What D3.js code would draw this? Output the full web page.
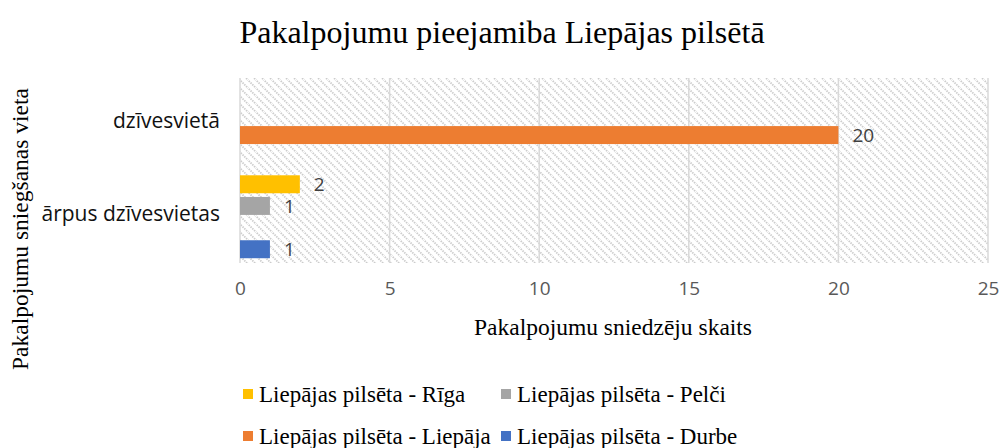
<!DOCTYPE html>
<html><head><meta charset="utf-8">
<script src="https://cdn.jsdelivr.net/npm/d3@7"></script>
<style>body{margin:0;background:#fff}svg{display:block}</style>
</head><body>
<svg id="c" width="1003" height="448"></svg>
<script>
const categories = ["dzīvesvietā", "ārpus dzīvesvietas"];
const seriesNames = ["Liepājas pilsēta - Rīga", "Liepājas pilsēta - Pelči", "Liepājas pilsēta - Liepāja", "Liepājas pilsēta - Durbe"];
const seriesColors = ["#FFC000", "#A5A5A5", "#ED7D31", "#4472C4"];
const valuesRiga = [null, 2];
const valuesPelci = [null, 1];
const valuesLiepaja = [20, null];
const valuesDurbe = [null, 1];
const xTicks = [0, 5, 10, 15, 20, 25];
const titleText = "Pakalpojumu pieejamiba Liepājas pilsētā";
const xTitle = "Pakalpojumu sniedzēju skaits";
const yTitle = "Pakalpojumu sniegšanas vieta";

const seriesValues = [valuesRiga, valuesPelci, valuesLiepaja, valuesDurbe];
const svg = d3.select("#c");
const m = {left: 240, right: 988, top: 78, bottom: 263};
const sans = "Open Sans, Liberation Sans, sans-serif";
const serif = "Liberation Serif, Times New Roman, serif";

const defs = svg.append("defs");
const pat = defs.append("pattern").attr("id", "hatch").attr("patternUnits", "userSpaceOnUse")
  .attr("width", 8).attr("height", 8);
pat.append("rect").attr("width", 8).attr("height", 8).attr("fill", "#fff");
pat.append("path").attr("d", "M-1,-1L9,9M-1,7L1,9M7,-1L9,1")
  .attr("stroke", "#cccccc").attr("stroke-width", 1.8).attr("stroke-dasharray", "1.5,1");

const x = d3.scaleLinear().domain([0, 25]).range([m.left, m.right]);
const y0 = d3.scaleBand().domain(categories).range([m.top, m.bottom]).paddingInner(0.08).paddingOuter(0.04);
const y1 = d3.scaleBand().domain(d3.range(seriesNames.length)).range([0, y0.bandwidth()]).paddingInner(0.17).paddingOuter(0.05);

svg.append("rect").attr("x", m.left).attr("y", m.top).attr("width", m.right - m.left).attr("height", m.bottom - m.top)
  .attr("fill", "url(#hatch)");

svg.append("g").selectAll("line").data(xTicks).join("line")
  .attr("x1", d => x(d)).attr("x2", d => x(d)).attr("y1", m.top).attr("y2", m.bottom)
  .attr("stroke", "#d9d9d9").attr("stroke-width", 1.5);

const xAxis = svg.append("g").attr("transform", `translate(0,${m.bottom})`)
  .call(d3.axisBottom(x).tickValues(xTicks).tickSize(0).tickPadding(19));
xAxis.select(".domain").remove();
xAxis.selectAll("text").attr("font-family", sans).attr("font-size", 19).attr("fill", "#595959");

const yAxis = svg.append("g").attr("transform", `translate(${m.left},0)`)
  .call(d3.axisLeft(y0).tickSize(0).tickPadding(20));
yAxis.select(".domain").remove();
yAxis.selectAll("text").attr("font-family", sans).attr("font-size", 21).attr("fill", "#111")
  .attr("dy", "0.2em");

const bars = [];
categories.forEach((c, ci) => seriesValues.forEach((vals, si) => {
  if (vals[ci] != null) bars.push({c, si, v: vals[ci]});
}));
const g = svg.append("g");
g.selectAll("rect").data(bars).join("rect")
  .attr("x", x(0)).attr("y", d => y0(d.c) + y1(d.si))
  .attr("width", d => x(d.v) - x(0)).attr("height", y1.bandwidth())
  .attr("fill", d => seriesColors[d.si]);
g.selectAll("text").data(bars).join("text")
  .attr("x", d => x(d.v) + 14).attr("y", d => y0(d.c) + y1(d.si) + y1.bandwidth() / 2 + 7)
  .attr("font-family", sans).attr("font-size", 19).attr("fill", "#404040")
  .text(d => d.v);

svg.append("text").attr("x", 502).attr("y", 43).attr("text-anchor", "middle")
  .attr("font-family", serif).attr("font-size", 32).attr("fill", "#000").text(titleText);
svg.append("text").attr("x", 613).attr("y", 335).attr("text-anchor", "middle")
  .attr("font-family", serif).attr("font-size", 23.5).attr("fill", "#000").text(xTitle);
svg.append("text").attr("transform", "translate(28,229) rotate(-90)").attr("text-anchor", "middle")
  .attr("font-family", serif).attr("font-size", 23.5).attr("fill", "#000").text(yTitle);

const legPos = [[243, 402], [501, 402], [243, 444], [501, 444]];
const leg = svg.append("g").selectAll("g").data(seriesNames).join("g")
  .attr("transform", (d, i) => `translate(${legPos[i][0]},${legPos[i][1]})`);
leg.append("rect").attr("x", 0).attr("y", -13).attr("width", 10).attr("height", 10)
  .attr("fill", (d, i) => seriesColors[i]);
leg.append("text").attr("x", 16).attr("y", 0)
  .attr("font-family", serif).attr("font-size", 23).attr("fill", "#000").text(d => d);
</script>
</body></html>
